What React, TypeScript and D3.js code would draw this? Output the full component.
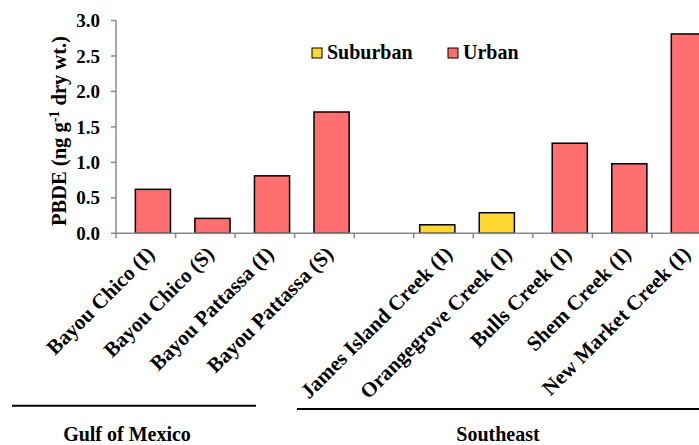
import React from "react";
import * as d3 from "d3";

const categories = [
  "Bayou Chico (I)",
  "Bayou Chico (S)",
  "Bayou Pattassa (I)",
  "Bayou Pattassa (S)",
  " ",
  "James Island Creek (I)",
  "Orangegrove Creek (I)",
  "Bulls Creek (I)",
  "Shem Creek (I)",
  "New Market Creek (I)",
];
const suburbanValues: (number | null)[] = [null, null, null, null, null, 0.12, 0.29, null, null, null];
const urbanValues: (number | null)[] = [0.62, 0.21, 0.81, 1.71, null, null, null, 1.27, 0.98, 2.81];
const yTicks = [0, 0.5, 1.0, 1.5, 2.0, 2.5, 3.0];
const groups = [
  { name: "Gulf of Mexico", from: 0, to: 3 },
  { name: "Southeast", from: 5, to: 9 },
];
const seriesNames = ["Suburban", "Urban"];

const SUB_COLOR = "#FFD730";
const URB_COLOR = "#FF6F6F";
const FONT = "'Liberation Serif', 'Times New Roman', serif";

export default function App() {
  const W = 699;
  const H = 445;
  const x0 = 116;
  const band = 59.55;
  const x = d3.scaleBand<string>().domain(categories).range([x0, x0 + band * categories.length]).padding(0);
  const y = d3.scaleLinear().domain([0, 3]).range([233.3, 20.5]);
  const bw = x.bandwidth();
  const barW = bw * 0.59;
  const subOff = bw * 0.1;
  const urbOff = bw * 0.325;

  const bars: any[] = [];
  categories.forEach((c, i) => {
    const s = suburbanValues[i];
    if (s != null) bars.push({ key: "s" + i, x: (x(c) as number) + subOff, v: s, color: SUB_COLOR });
    const u = urbanValues[i];
    if (u != null) bars.push({ key: "u" + i, x: (x(c) as number) + urbOff, v: u, color: URB_COLOR });
  });

  const axisColor = "#888";

  return (
    <svg width={W} height={H} style={{ position: "absolute", left: 0, top: 0 }} fontFamily={FONT}>
      <rect width={W} height={H} fill="white" />
      {/* bars */}
      {bars.map((b) => (
        <rect
          key={b.key}
          x={b.x}
          y={y(b.v)}
          width={barW}
          height={y(0) - y(b.v)}
          fill={b.color}
          stroke="#000"
          strokeWidth={1.5}
        />
      ))}
      {/* y axis */}
      <line x1={x0} x2={x0} y1={y(3)} y2={y(0) + 5} stroke={axisColor} strokeWidth={1.5} />
      {yTicks.map((t) => (
        <g key={t}>
          <line x1={x0 - 5} x2={x0} y1={y(t)} y2={y(t)} stroke={axisColor} strokeWidth={1.5} />
          <text x={100} y={y(t)} dy="0.35em" textAnchor="end" fontSize={19} fontWeight="bold">
            {t.toFixed(1)}
          </text>
        </g>
      ))}
      {/* x axis */}
      <line x1={x0} x2={W} y1={y(0)} y2={y(0)} stroke={axisColor} strokeWidth={1.5} />
      {categories.map((c, i) => (
        <line
          key={"t" + i}
          x1={(x(c) as number) + bw}
          x2={(x(c) as number) + bw}
          y1={y(0)}
          y2={y(0) + 5}
          stroke={axisColor}
          strokeWidth={1.5}
        />
      ))}
      {categories.map((c, i) => {
        const cx = (x(c) as number) + bw / 2 + 10;
        const cy = y(0) + 22;
        return (
          <text
            key={"l" + i}
            transform={`translate(${cx},${cy}) rotate(-45)`}
            textAnchor="end"
            fontSize={21}
            fontWeight="bold"
          >
            {c.trim()}
          </text>
        );
      })}
      {/* y title */}
      <text
        transform={`translate(66,131) rotate(-90)`}
        textAnchor="middle"
        fontSize={20.5}
        fontWeight="bold"
      >
        PBDE (ng g<tspan dy={-7} fontSize={14}>-1</tspan>
        <tspan dy={7}> dry wt.)</tspan>
      </text>
      {/* legend */}
      <rect x={312} y={48} width={10} height={10} fill={SUB_COLOR} stroke="#000" strokeWidth={1} />
      <text x={327} y={59} fontSize={20} fontWeight="bold">{seriesNames[0]}</text>
      <rect x={448} y={48} width={10} height={10} fill={URB_COLOR} stroke="#000" strokeWidth={1} />
      <text x={463} y={59} fontSize={20} fontWeight="bold">{seriesNames[1]}</text>
      {/* group lines */}
      <line x1={12} x2={256} y1={405.7} y2={405.7} stroke="#000" strokeWidth={2} />
      <text x={127} y={441} textAnchor="middle" fontSize={20} fontWeight="bold">{groups[0].name}</text>
      <line x1={297} x2={W} y1={409} y2={409} stroke="#000" strokeWidth={2} />
      <text x={498} y={441} textAnchor="middle" fontSize={20} fontWeight="bold">{groups[1].name}</text>
    </svg>
  );
}
